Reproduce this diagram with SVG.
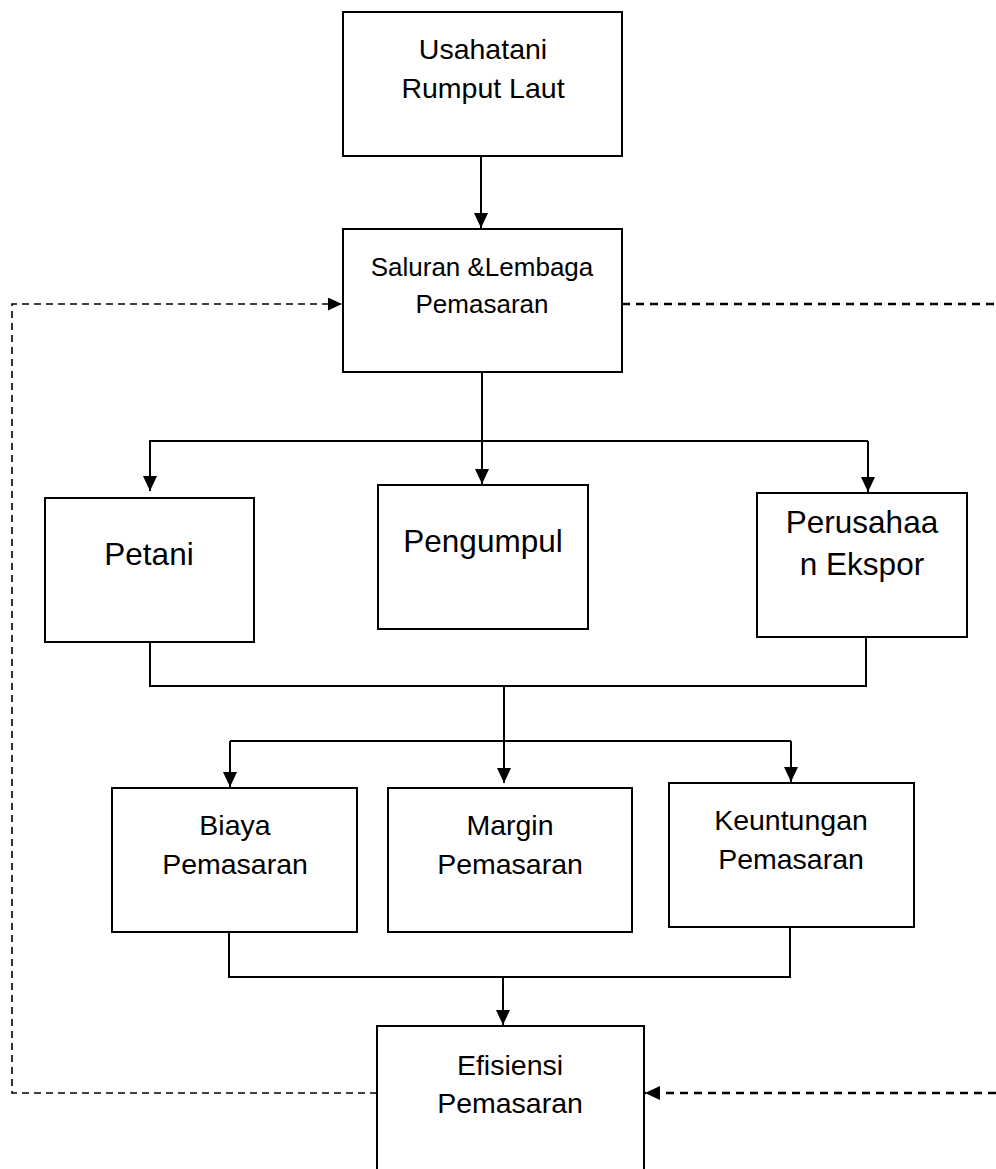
<svg xmlns="http://www.w3.org/2000/svg" width="996" height="1169" viewBox="0 0 996 1169">
<defs>
<style>
.box{fill:#fff;stroke:#000;stroke-width:2}
.ln{fill:none;stroke:#000;stroke-width:2}
.dash{fill:none;stroke:#000;stroke-width:2.5;stroke-dasharray:8 6}
.dthin{fill:none;stroke:#000;stroke-width:1.6;stroke-dasharray:7 5}
text{font-family:"Liberation Sans",Arial,sans-serif;fill:#000;text-anchor:middle}
.t26{font-size:26px}
.t29{font-size:28.5px}
.t31{font-size:31.5px}
</style>
<marker id="ah" markerUnits="userSpaceOnUse" markerWidth="16" markerHeight="16" refX="15" refY="7" orient="auto">
<path d="M0,0 L15,7 L0,14 z" fill="#000"/>
</marker>
<marker id="ahs" markerUnits="userSpaceOnUse" markerWidth="16" markerHeight="16" refX="14" refY="6.5" orient="auto">
<path d="M0,0 L14,6.5 L0,13 z" fill="#000"/>
</marker>
</defs>
<g id="connectors">
<line class="ln" x1="481" y1="156" x2="481" y2="228" marker-end="url(#ah)"/>
<line class="ln" x1="482" y1="372" x2="482" y2="484" marker-end="url(#ah)"/>
<polyline class="ln" points="150,491 150,441 868,441"/>
<line class="ln" x1="150" y1="441" x2="150" y2="491" marker-end="url(#ah)"/>
<line class="ln" x1="868" y1="441" x2="868" y2="492" marker-end="url(#ah)"/>
<polyline class="ln" points="150,642 150,686 866,686 866,637"/>
<line class="ln" x1="504" y1="686" x2="504" y2="783" marker-end="url(#ah)"/>
<line class="ln" x1="230" y1="741" x2="791" y2="741"/>
<line class="ln" x1="230" y1="741" x2="230" y2="787" marker-end="url(#ah)"/>
<line class="ln" x1="791" y1="741" x2="791" y2="782" marker-end="url(#ah)"/>
<polyline class="ln" points="229,932 229,977 790,977 790,927"/>
<line class="ln" x1="503" y1="977" x2="503" y2="1025" marker-end="url(#ah)"/>
<polyline class="dthin" points="377,1093 12,1093 12,304 342,304" marker-end="url(#ahs)"/>
<line class="dash" x1="622" y1="304" x2="996" y2="304"/>
<line class="dash" x1="996" y1="1093" x2="645" y2="1093" marker-end="url(#ah)"/>
</g>
<g id="usahatani">
<rect class="box" x="343" y="12" width="279" height="144"/>
<text class="t29" x="483" y="59">Usahatani</text>
<text class="t29" x="483" y="98">Rumput Laut</text>
</g>
<g id="saluran">
<rect class="box" x="343" y="229" width="279" height="143"/>
<text class="t26" x="482" y="276">Saluran &amp;Lembaga</text>
<text class="t26" x="482" y="313">Pemasaran</text>
</g>
<g id="petani">
<rect class="box" x="45" y="498" width="209" height="144"/>
<text class="t31" x="149" y="565">Petani</text>
</g>
<g id="pengumpul">
<rect class="box" x="378" y="485" width="210" height="144"/>
<text class="t31" x="483" y="552">Pengumpul</text>
</g>
<g id="perusahaan">
<rect class="box" x="757" y="493" width="210" height="144"/>
<text class="t31" x="862" y="533">Perusahaa</text>
<text class="t31" x="862" y="575">n Ekspor</text>
</g>
<g id="biaya">
<rect class="box" x="112" y="788" width="245" height="144"/>
<text class="t29" x="235" y="835">Biaya</text>
<text class="t29" x="235" y="874">Pemasaran</text>
</g>
<g id="margin">
<rect class="box" x="388" y="788" width="244" height="144"/>
<text class="t29" x="510" y="835">Margin</text>
<text class="t29" x="510" y="874">Pemasaran</text>
</g>
<g id="keuntungan">
<rect class="box" x="669" y="783" width="245" height="144"/>
<text class="t29" x="791" y="830">Keuntungan</text>
<text class="t29" x="791" y="869">Pemasaran</text>
</g>
<g id="efisiensi">
<path class="box" d="M377,1169 V1026 H644 V1169"/>
<text class="t29" x="510" y="1075">Efisiensi</text>
<text class="t29" x="510" y="1113">Pemasaran</text>
</g>
</svg>
